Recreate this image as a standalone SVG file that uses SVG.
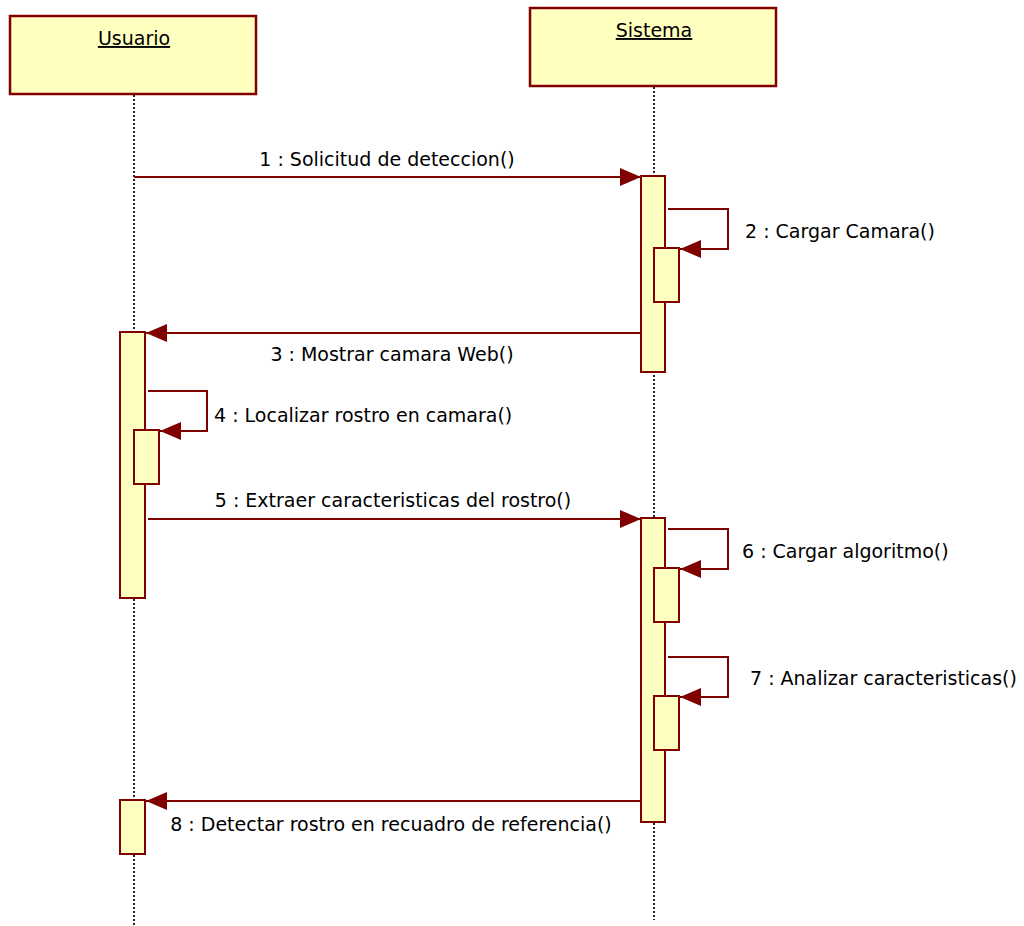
<svg xmlns="http://www.w3.org/2000/svg" width="1024" height="926" viewBox="0 0 1024 926">
  <style>
    .obj { fill: #ffffc0; stroke: #800000; stroke-width: 2.5; }
    .act { fill: #ffffc0; stroke: #800000; stroke-width: 2; }
    .life { stroke: #222222; stroke-width: 2; stroke-dasharray: 2 2; fill: none; }
    .msg { stroke: #800000; stroke-width: 2; fill: none; }
    text { font-family: "DejaVu Sans", Verdana, sans-serif; font-size: 19px; fill: #000000; }
    .title { text-decoration: underline; }
  </style>
  <defs>
    <marker id="arrow" markerWidth="21" markerHeight="18" refX="21" refY="9" orient="auto" markerUnits="userSpaceOnUse">
      <path d="M0,0 L21,9 L0,18 z" fill="#800000"/>
    </marker>
  </defs>

  <!-- lifelines -->
  <g id="lifelines">
    <line class="life" x1="134" y1="95" x2="134" y2="926"/>
    <line class="life" x1="654" y1="87" x2="654" y2="920"/>
  </g>

  <!-- participant: Usuario -->
  <g id="usuario">
    <rect class="obj" x="10" y="16" width="246" height="78"/>
    <text class="title" x="134" y="45" text-anchor="middle">Usuario</text>
  </g>

  <!-- participant: Sistema -->
  <g id="sistema">
    <rect class="obj" x="530" y="8" width="246" height="78"/>
    <text class="title" x="654" y="37" text-anchor="middle">Sistema</text>
  </g>

  <!-- activation bars -->
  <g id="activations">
    <rect class="act" x="641" y="176" width="24" height="196"/>
    <rect class="act" x="654" y="248" width="25" height="54"/>
    <rect class="act" x="120" y="332" width="25" height="266"/>
    <rect class="act" x="134" y="430" width="25" height="54"/>
    <rect class="act" x="641" y="518" width="24" height="304"/>
    <rect class="act" x="654" y="568" width="25" height="54"/>
    <rect class="act" x="654" y="696" width="25" height="54"/>
    <rect class="act" x="120" y="800" width="25" height="54"/>
  </g>

  <!-- messages -->
  <g id="connectors">
    <path class="msg" d="M134,177 H641" marker-end="url(#arrow)"/>
    <path class="msg" d="M668,209 H728 V249 H680" marker-end="url(#arrow)"/>
    <path class="msg" d="M641,333 H146" marker-end="url(#arrow)"/>
    <path class="msg" d="M148,391 H207 V431 H160" marker-end="url(#arrow)"/>
    <path class="msg" d="M148,519 H641" marker-end="url(#arrow)"/>
    <path class="msg" d="M668,529 H728 V569 H680" marker-end="url(#arrow)"/>
    <path class="msg" d="M668,657 H728 V697 H680" marker-end="url(#arrow)"/>
    <path class="msg" d="M641,801 H146" marker-end="url(#arrow)"/>
  </g>

  <!-- message labels -->
  <g id="labels">
    <text x="387" y="166" text-anchor="middle">1 : Solicitud de deteccion()</text>
    <text x="745" y="238">2 : Cargar Camara()</text>
    <text x="392" y="361" text-anchor="middle">3 : Mostrar camara Web()</text>
    <text x="214" y="422">4 : Localizar rostro en camara()</text>
    <text x="393" y="507" text-anchor="middle">5 : Extraer caracteristicas del rostro()</text>
    <text x="742" y="558">6 : Cargar algoritmo()</text>
    <text x="750" y="685">7 : Analizar caracteristicas()</text>
    <text x="391" y="831" text-anchor="middle">8 : Detectar rostro en recuadro de referencia()</text>
  </g>
</svg>
